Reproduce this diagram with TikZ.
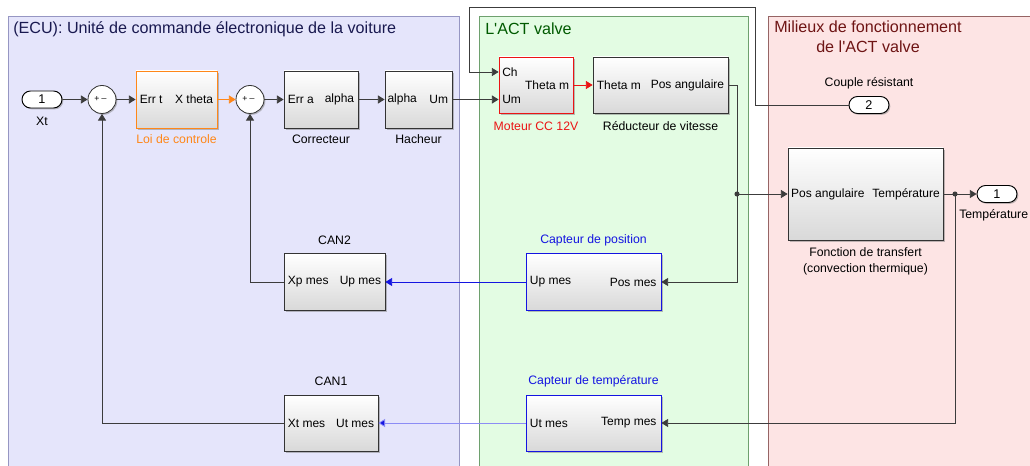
\documentclass[tikz,border=0pt]{standalone}
\usepackage{fontspec}
\setmainfont{Liberation Sans}[Ligatures=TeXOff]
\usetikzlibrary{arrows.meta,shadows,shapes.misc,calc}
\definecolor{ecufill}{RGB}{229,229,251}
\definecolor{ecuedge}{RGB}{150,150,195}
\definecolor{ecutxt}{RGB}{25,25,80}
\definecolor{actfill}{RGB}{227,252,227}
\definecolor{actedge}{RGB}{110,160,110}
\definecolor{acttxt}{RGB}{0,90,0}
\definecolor{milfill}{RGB}{253,228,228}
\definecolor{miledge}{RGB}{150,100,100}
\definecolor{miltxt}{RGB}{110,20,20}
\definecolor{orng}{RGB}{255,135,25}
\definecolor{redc}{RGB}{235,20,20}
\definecolor{bluec}{RGB}{20,20,225}
\definecolor{lblue}{RGB}{140,140,245}
\definecolor{wirec}{RGB}{60,60,60}
\tikzset{
  blk/.style={draw=black!80, line width=0.6pt, top color=white, bottom color=black!15,
    drop shadow={shadow xshift=1.3pt, shadow yshift=-1.3pt, fill=black!50, opacity=0.5}, inner sep=0pt},
  bsz/.style 2 args={minimum width=#1*0.75pt, minimum height=#2*0.75pt},
  ptxt/.style={font=\fontsize{9}{11}\selectfont, inner sep=0pt, text=black},
  lbl/.style={font=\fontsize{9.2}{11}\selectfont, inner sep=0pt},
  ttl/.style={font=\fontsize{12.1}{14}\selectfont, inner sep=0pt, anchor=west},
  wire/.style={draw=wirec, line width=0.6pt},
  arr/.style={-{Triangle[length=5pt,width=6pt]}},
  sumc/.style={circle, draw=black!80, fill=white, line width=0.6pt, minimum size=28*0.75pt, inner sep=0pt,
    drop shadow={shadow xshift=1pt, shadow yshift=-1pt, fill=black!50, opacity=0.5}},
  sgn/.style={font=\fontsize{6.5}{6.5}\selectfont, inner sep=0pt},
  port/.style={rounded rectangle, draw=black, line width=0.7pt, fill=white, minimum width=40*0.75pt,
    minimum height=17*0.75pt, inner sep=0pt, font=\fontsize{9.5}{10}\selectfont,
    drop shadow={shadow xshift=1pt, shadow yshift=-1pt, fill=black!50, opacity=0.5}},
}
\begin{document}
\begin{tikzpicture}[x=0.75pt,y=-0.75pt]
\useasboundingbox (0,0) rectangle (1030,466);
\begin{scope}
\clip (0,0) rectangle (1030,466);
% regions
\filldraw[fill=ecufill, draw=ecuedge, line width=0.6pt] (8,16) rectangle (459,480);
\filldraw[fill=actfill, draw=actedge, line width=0.6pt] (479,16) rectangle (748,480);
\filldraw[fill=milfill, draw=miledge, line width=0.6pt] (768,16) rectangle (1040,480);
\end{scope}
\node[ttl, text=ecutxt] (tecu) at (13,29) {(ECU): Unité de commande électronique de la voiture};
\node[ttl, text=acttxt] (tact) at (485,29) {L'ACT valve};
\node[ttl, text=miltxt] (tmil1) at (774,27) {Milieux de fonctionnement};
\node[font=\fontsize{12.1}{14}\selectfont, inner sep=0pt, text=miltxt] (tmil2) at (868,47) {de l'ACT valve};

% ports
\node[port] (in1) at (42,99.5) {1};
\node[lbl] (in1l) at (42,121) {Xt};
\node[port] (in2) at (869,105) {2};
\node[lbl] (in2l) at (869,83) {Couple résistant};
\node[port] (out1) at (997,194) {1};
\node[lbl, anchor=west] (out1l) at (959,215) {Température};

% sums
\node[sumc] (s1) at (102,99.5) {};
\node[sgn] (s1p) at ($(s1)+(-5,0)$) {+};
\node[sgn] (s1m) at ($(s1)+(2,-1)$) {\_};
\node[sumc] (s2) at (250,99.5) {};
\node[sgn] (s2p) at ($(s2)+(-5,0)$) {+};
\node[sgn] (s2m) at ($(s2)+(2,-1)$) {\_};

% main row blocks
\node[blk, draw=orng, bsz={81}{57}] (loi) at (176.5,99.5) {};
\node[ptxt, anchor=west] (loiin) at ([xshift=3pt]loi.west) {Err t};
\node[ptxt, anchor=east] (loiout) at ([xshift=-3pt]loi.east) {X theta};
\node[lbl, text=orng] (loil) at ($(loi.south)+(0,11)$) {Loi de controle};

\node[blk, bsz={74}{57}] (cor) at (321,99.5) {};
\node[ptxt, anchor=west] (corin) at ([xshift=3pt]cor.west) {Err a};
\node[ptxt, anchor=east] (corout) at ([xshift=-3pt]cor.east) {alpha};
\node[lbl] (corl) at ($(cor.south)+(0,11)$) {Correcteur};

\node[blk, bsz={67}{57}] (hach) at (418.5,99.5) {};
\node[ptxt, anchor=west] (hachin) at ([xshift=2pt]hach.west) {alpha};
\node[ptxt, anchor=east] (hachout) at ([xshift=-3pt]hach.east) {Um};
\node[lbl] (hachl) at ($(hach.south)+(0,11)$) {Hacheur};

\node[blk, draw=redc, bsz={74}{56}] (mot) at (536,85) {};
\node[ptxt, anchor=west] (motch) at (502,72) {Ch};
\node[ptxt, anchor=west] (motum) at (502,99.5) {Um};
\node[ptxt, anchor=east] (motout) at ([xshift=-3pt]mot.east) {Theta m};
\node[lbl, text=redc] (motl) at (536,126) {Moteur CC 12V};

\node[blk, bsz={135}{56}] (red) at (660.5,85) {};
\node[ptxt, anchor=west] (redin) at ([xshift=3pt]red.west) {Theta m};
\node[ptxt, anchor=east] (redout) at ([xshift=-3pt]red.east) {Pos angulaire};
\node[lbl] (redl) at (660.5,126) {Réducteur de vitesse};

% transfer function
\node[blk, bsz={155}{92}] (ft) at (865.5,194) {};
\node[ptxt, anchor=west] (ftin) at ([xshift=2.5pt]ft.west) {Pos angulaire};
\node[ptxt, anchor=east] (ftout) at ([xshift=-2.5pt]ft.east) {Température};
\node[lbl] (ftl1) at (865.5,252) {Fonction de transfert};
\node[lbl] (ftl2) at (865.5,269) {(convection thermique)};

% sensors
\node[blk, draw=bluec, bsz={135}{57}] (cpos) at (593.5,282) {};
\node[ptxt, anchor=west] (cposin) at ([xshift=3pt]cpos.west) {Up mes};
\node[ptxt, anchor=east] (cposout) at ([xshift=-3.5pt]cpos.east) {Pos mes};
\node[lbl, text=bluec] (cposl) at (593.5,240) {Capteur de position};

\node[blk, draw=bluec, bsz={135}{56}] (ctemp) at (593.5,423) {};
\node[ptxt, anchor=west] (ctempin) at ([xshift=3pt]ctemp.west) {Ut mes};
\node[ptxt, anchor=east] (ctempout) at ([xshift=-3.5pt]ctemp.east) {Temp mes};
\node[lbl, text=bluec] (ctempl) at (593.5,381) {Capteur de température};

% CAN
\node[blk, bsz={101}{57}] (can2) at (334.5,282) {};
\node[ptxt, anchor=west] (can2in) at ([xshift=3pt]can2.west) {Xp mes};
\node[ptxt, anchor=east] (can2out) at ([xshift=-3pt]can2.east) {Up mes};
\node[lbl] (can2l) at (334.5,240) {CAN2};

\node[blk, bsz={94}{56}] (can1) at (331,423) {};
\node[ptxt, anchor=west] (can1in) at ([xshift=3pt]can1.west) {Xt mes};
\node[ptxt, anchor=east] (can1out) at ([xshift=-3pt]can1.east) {Ut mes};
\node[lbl] (can1l) at (331,381) {CAN1};

% coordinates
\coordinate (c1) at (755,7);
\coordinate (c2) at (469,7);
\coordinate (chin) at (mot.west |- 0,72);
\coordinate (umin) at (mot.west |- hach.east);
\coordinate (br1) at (737,194);
\coordinate (br2) at (955,194);

% connectors
\draw[wire,arr] (in1) -- (s1);
\draw[wire,arr] (s1) -- (loi);
\draw[draw=orng, line width=0.6pt, arr] (loi) -- (s2);
\draw[wire,arr] (s2) -- (cor);
\draw[wire,arr] (cor) -- (hach);
\draw[wire,arr] (hach.east) -- (umin);
\draw[wire,arr] (in2.west) -| (c1) -- (c2) |- (chin);
\draw[draw=redc, line width=0.6pt, arr] (mot.east) -- (red.west);
\draw[wire,arr] (red.east) -| (br1) |- (cpos.east);
\draw[wire,arr] (br1) -- (ft.west);
\draw[wire,arr] (ft.east) -- (out1.west);
\draw[wire,arr] (br2) |- (ctemp.east);
\draw[draw=bluec, line width=0.6pt, arr] (cpos.west) -- (can2.east);
\draw[draw=lblue, line width=0.6pt, -{Triangle[length=5pt,width=6pt,fill=bluec]}, ] (ctemp.west) -- (can1.east);
\draw[wire,arr] (can2.west) -| (s2.south);
\draw[wire,arr] (can1.west) -| (s1.south);
\fill[wirec] (br1) circle[radius=1.9pt];
\fill[wirec] (br2) circle[radius=1.9pt];
\end{tikzpicture}
\end{document}
